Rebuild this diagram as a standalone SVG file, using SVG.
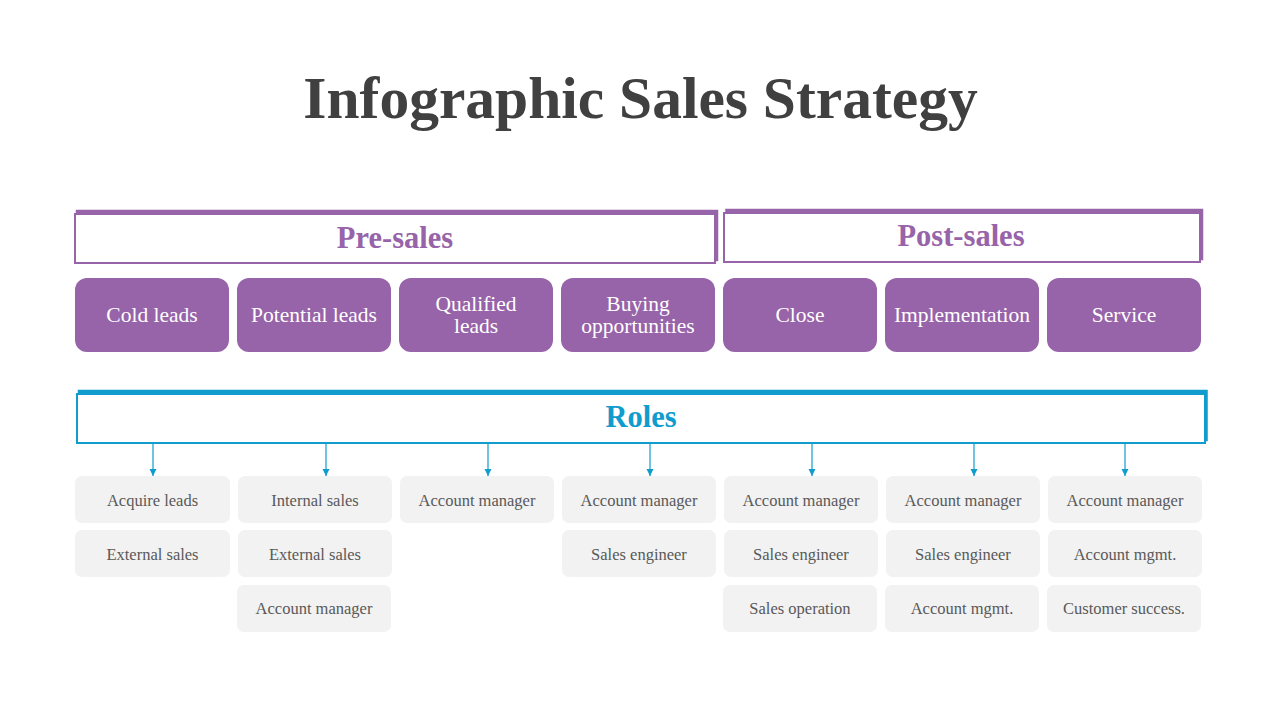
<svg xmlns="http://www.w3.org/2000/svg" width="1280" height="720" viewBox="0 0 1280 720">
<defs>
<style>
.title{font-family:"Liberation Serif","DejaVu Serif",serif;font-weight:bold;font-size:59.5px;fill:#404040;text-anchor:middle}
.hdr{font-family:"Liberation Serif","DejaVu Serif",serif;font-weight:bold;font-size:30.5px;text-anchor:middle}
.purple-t{fill:#9763A9}
.blue-t{fill:#109DCD}
.shadowP{fill:none;stroke:#9763A9;stroke-width:3.5}
.frontP{fill:#fff;stroke:#9763A9;stroke-width:2}
.shadowB{fill:none;stroke:#109DCD;stroke-width:3.5}
.frontB{fill:#fff;stroke:#109DCD;stroke-width:2}
.stage rect{fill:#9763A9}
.stage text{font-family:"Liberation Serif","DejaVu Serif",serif;font-size:21.5px;fill:#fff;text-anchor:middle}
.role rect{fill:#F2F2F2}
.role text{font-family:"Liberation Serif","DejaVu Serif",serif;font-size:16.5px;fill:#595959;text-anchor:middle}
.conn line{stroke:#109DCD;stroke-width:1.2}
</style>
<marker id="ah" markerUnits="userSpaceOnUse" markerWidth="8" markerHeight="8" refX="7" refY="3.5" orient="auto">
<path d="M0,0 L7,3.5 L0,7 z" fill="#109DCD"/>
</marker>
</defs>
<rect width="1280" height="720" fill="#fff"/>
<text class="title" x="640.5" y="118">Infographic Sales Strategy</text>

<g id="pre-sales">
<rect class="shadowP" x="77.5" y="211.5" width="639" height="48"/>
<rect class="frontP" x="75" y="214" width="640" height="49"/>
<text class="hdr purple-t" x="395" y="248">Pre-sales</text>
</g>
<g id="post-sales">
<rect class="shadowP" x="727" y="210.5" width="474.5" height="48"/>
<rect class="frontP" x="724" y="213" width="476" height="49"/>
<text class="hdr purple-t" x="961" y="246">Post-sales</text>
</g>

<g id="stage-cold" class="stage"><rect x="75" y="278" width="154" height="74" rx="12"/><text x="152" y="322">Cold leads</text></g>
<g id="stage-potential" class="stage"><rect x="237" y="278" width="154" height="74" rx="12"/><text x="314" y="322">Potential leads</text></g>
<g id="stage-qualified" class="stage"><rect x="399" y="278" width="154" height="74" rx="12"/><text x="476" y="311">Qualified</text><text x="476" y="333">leads</text></g>
<g id="stage-buying" class="stage"><rect x="561" y="278" width="154" height="74" rx="12"/><text x="638" y="311">Buying</text><text x="638" y="333">opportunities</text></g>
<g id="stage-close" class="stage"><rect x="723" y="278" width="154" height="74" rx="12"/><text x="800" y="322">Close</text></g>
<g id="stage-implementation" class="stage"><rect x="885" y="278" width="154" height="74" rx="12"/><text x="962" y="322">Implementation</text></g>
<g id="stage-service" class="stage"><rect x="1047" y="278" width="154" height="74" rx="12"/><text x="1124" y="322">Service</text></g>

<g id="roles">
<rect class="shadowB" x="79.5" y="391.5" width="1126.5" height="48"/>
<rect class="frontB" x="77" y="394" width="1128" height="49"/>
<text class="hdr blue-t" x="641" y="427">Roles</text>
</g>

<g id="connectors" class="conn">
<line x1="153" y1="443" x2="153" y2="476" marker-end="url(#ah)"/>
<line x1="326" y1="443" x2="326" y2="476" marker-end="url(#ah)"/>
<line x1="488" y1="443" x2="488" y2="476" marker-end="url(#ah)"/>
<line x1="650" y1="443" x2="650" y2="476" marker-end="url(#ah)"/>
<line x1="812" y1="443" x2="812" y2="476" marker-end="url(#ah)"/>
<line x1="974" y1="443" x2="974" y2="476" marker-end="url(#ah)"/>
<line x1="1125" y1="443" x2="1125" y2="476" marker-end="url(#ah)"/>
</g>

<g id="role-c1r1" class="role"><rect x="75" y="476" width="155" height="47" rx="7"/><text x="152.5" y="506">Acquire leads</text></g>
<g id="role-c1r2" class="role"><rect x="75" y="530" width="155" height="47" rx="7"/><text x="152.5" y="560">External sales</text></g>
<g id="role-c2r1" class="role"><rect x="238" y="476" width="154" height="47" rx="7"/><text x="315" y="506">Internal sales</text></g>
<g id="role-c2r2" class="role"><rect x="238" y="530" width="154" height="47" rx="7"/><text x="315" y="560">External sales</text></g>
<g id="role-c2r3" class="role"><rect x="237" y="585" width="154" height="47" rx="7"/><text x="314" y="614">Account manager</text></g>
<g id="role-c3r1" class="role"><rect x="400" y="476" width="154" height="47" rx="7"/><text x="477" y="506">Account manager</text></g>
<g id="role-c4r1" class="role"><rect x="562" y="476" width="154" height="47" rx="7"/><text x="639" y="506">Account manager</text></g>
<g id="role-c4r2" class="role"><rect x="562" y="530" width="154" height="47" rx="7"/><text x="639" y="560">Sales engineer</text></g>
<g id="role-c5r1" class="role"><rect x="724" y="476" width="154" height="47" rx="7"/><text x="801" y="506">Account manager</text></g>
<g id="role-c5r2" class="role"><rect x="724" y="530" width="154" height="47" rx="7"/><text x="801" y="560">Sales engineer</text></g>
<g id="role-c5r3" class="role"><rect x="723" y="585" width="154" height="47" rx="7"/><text x="800" y="614">Sales operation</text></g>
<g id="role-c6r1" class="role"><rect x="886" y="476" width="154" height="47" rx="7"/><text x="963" y="506">Account manager</text></g>
<g id="role-c6r2" class="role"><rect x="886" y="530" width="154" height="47" rx="7"/><text x="963" y="560">Sales engineer</text></g>
<g id="role-c6r3" class="role"><rect x="885" y="585" width="154" height="47" rx="7"/><text x="962" y="614">Account mgmt.</text></g>
<g id="role-c7r1" class="role"><rect x="1048" y="476" width="154" height="47" rx="7"/><text x="1125" y="506">Account manager</text></g>
<g id="role-c7r2" class="role"><rect x="1048" y="530" width="154" height="47" rx="7"/><text x="1125" y="560">Account mgmt.</text></g>
<g id="role-c7r3" class="role"><rect x="1047" y="585" width="154" height="47" rx="7"/><text x="1124" y="614">Customer success.</text></g>
</svg>
